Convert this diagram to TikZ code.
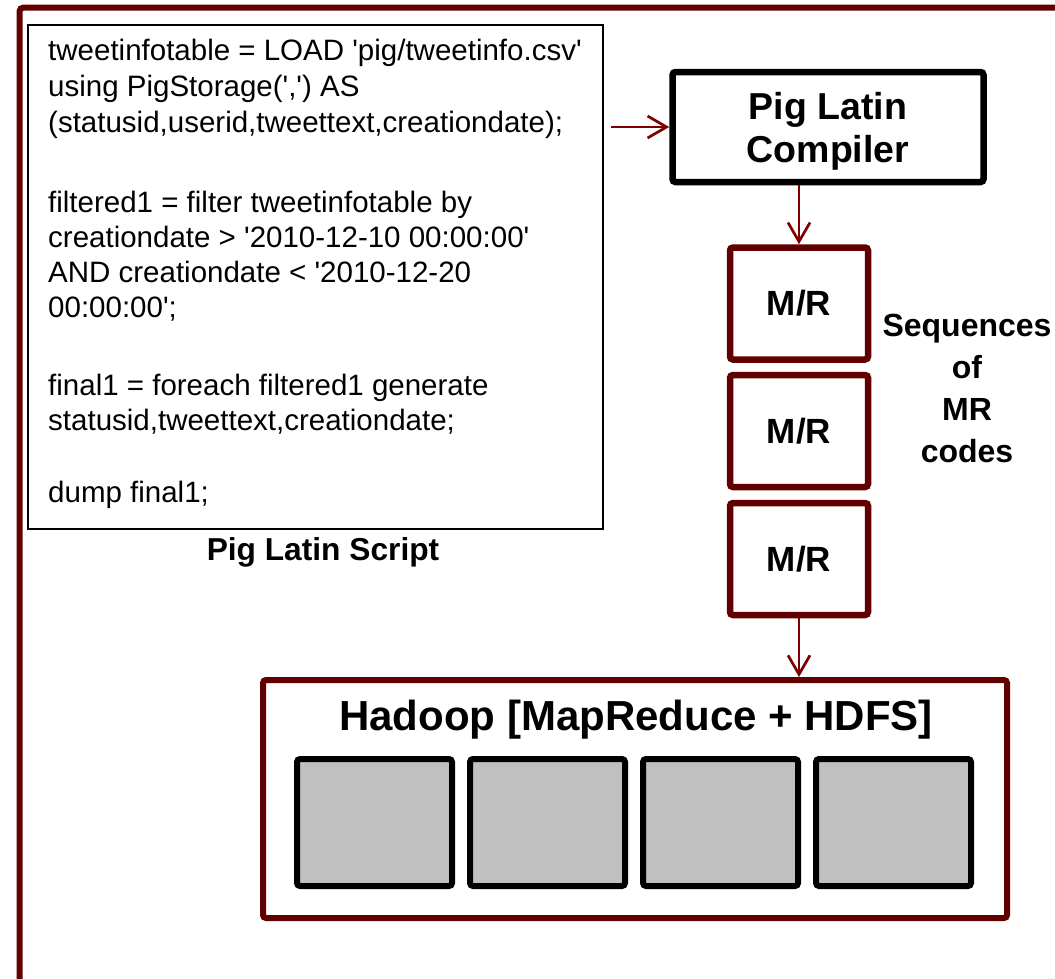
\documentclass[tikz,border=0pt]{standalone}
\usepackage{fontspec}
\newfontfamily\arialf{Liberation Sans}
\usetikzlibrary{arrows.meta}
\definecolor{darkframe}{RGB}{96,0,0}
\definecolor{arrowred}{RGB}{128,0,0}
\definecolor{cellgray}{RGB}{192,192,192}
\tikzset{
  codetext/.style={anchor=base west, inner sep=0pt, font=\arialf\fontsize{29.5}{35}\selectfont},
  boldlbl/.style={inner sep=0pt, align=center, font=\arialf\bfseries\fontsize{#1}{#1}\selectfont},
  mrbox/.style={draw=darkframe, line width=6.5pt, rounded corners=3pt, minimum width=138pt, minimum height=112pt, inner sep=0pt, font=\arialf\bfseries\fontsize{35}{40}\selectfont},
  cell/.style={draw=black, fill=cellgray, line width=6pt, rounded corners=3pt, minimum width=155pt, minimum height=127pt},
  conn/.style={draw=arrowred, line width=2.7pt, -{Straight Barb[length=19pt,width=22pt]}},
}
\begin{document}
\begin{tikzpicture}[x=1pt,y=-1pt]
\useasboundingbox (0,0) rectangle (1055,978);
\begin{scope}
  \clip (0,0) rectangle (1055,978);
  \draw[darkframe, line width=6pt, rounded corners=4pt] (19.5,7.5) rectangle (1120,1060);
\end{scope}

% script box
\node[draw=black, line width=2.2pt, minimum width=575pt, minimum height=504pt, inner sep=0pt] (script) at (315.5,277) {};
\node[codetext] (l1) at (48,60) {tweetinfotable = LOAD 'pig/tweetinfo.csv'};
\node[codetext] (l2) at (48,96) {using PigStorage(',') AS};
\node[codetext] (l3) at (48,132) {(statusid,userid,tweettext,creationdate);};
\node[codetext] (l4) at (48,212) {filtered1 = filter tweetinfotable by};
\node[codetext] (l5) at (48,247) {creationdate > '2010-12-10 00:00:00'};
\node[codetext] (l6) at (48,282) {AND creationdate < '2010-12-20};
\node[codetext] (l7) at (48,317) {00:00:00';};
\node[codetext] (l8) at (48,395) {final1 = foreach filtered1 generate};
\node[codetext] (l9) at (48,430) {statusid,tweettext,creationdate;};
\node[codetext] (l10) at (48,502) {dump final1;};
\node[boldlbl=31.7, anchor=base] (scriptlbl) at (323,560) {Pig Latin Script};

% compiler
\node[draw=black, line width=6.5pt, rounded corners=3pt, minimum width=311pt, minimum height=110pt] (compiler) at (828,127) {};
\node[inner sep=0pt, align=center, anchor=base, font=\arialf\bfseries\fontsize{37.5}{43}\selectfont] (cmptext) at (828,162) {Pig Latin\\Compiler};

% M/R boxes
\node[mrbox] (mr1) at (799,303.5) {M/R};
\node[mrbox] (mr2) at (799,431) {M/R};
\node[mrbox] (mr3) at (799,559) {M/R};
\node[inner sep=0pt, align=center, anchor=base, font=\arialf\bfseries\fontsize{32}{41.7}\selectfont] (seq) at (967,462) {Sequences\\of\\MR\\codes};

% Hadoop
\node[draw=darkframe, line width=6pt, rounded corners=3pt, minimum width=744pt, minimum height=238pt] (hadoop) at (635,799) {};
\node[boldlbl=42, anchor=base] (htitle) at (636,730) {Hadoop [MapReduce + HDFS]};
\node[cell] (c1) at (374.5,822.5) {};
\node[cell] (c2) at (547.5,822.5) {};
\node[cell] (c3) at (720.5,822.5) {};
\node[cell] (c4) at (893.5,822.5) {};

% connectors
\coordinate (s1) at ([xshift=7pt]script.east |- compiler.west);
\draw[conn] (s1) -- (compiler.west);
\draw[conn] (mr1.north |- compiler.south) -- (mr1.north);
\draw[conn] (mr3.south) -- (mr3.south |- hadoop.north);
\end{tikzpicture}
\end{document}
